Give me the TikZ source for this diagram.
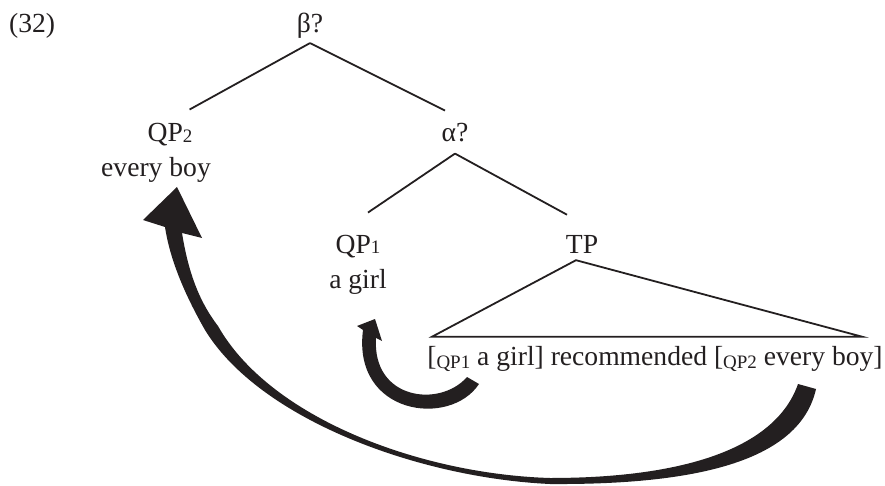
\documentclass[tikz,border=0pt]{standalone}
\usepackage{fontspec}
\setmainfont{Liberation Serif}
\definecolor{ink}{RGB}{35,31,32}
\newcommand{\lowlbl}[2]{\raisebox{-#2pt}{\fontsize{19}{19}\selectfont #1}}

\begin{document}
\begin{tikzpicture}[x=1pt,y=-1pt,
		lbl/.style={inner sep=0pt,anchor=base,text=ink,font=\fontsize{27.6}{32}\selectfont},
		branch/.style={draw=ink,line width=1.8pt}]
	\useasboundingbox (0,0) rectangle (885,486);
	% labels
	\node[lbl,anchor=base west] (ex) at (9,33) {(32)};
	\node[lbl] (beta) at (310,33) {β?};
	\node[lbl] (qp2) at (170,142) {QP\lowlbl{2}{1}};
	\node[lbl] (eb) at (156,177) {every boy};
	\node[lbl] (alpha) at (455,142) {α?};
	\node[lbl] (qp1) at (358,253) {QP\lowlbl{1}{1}};
	\node[lbl] (ag) at (358,288) {a girl};
	\node[lbl] (tp) at (582,253) {TP};
	\node[lbl] (sent) at (655,365) {[\lowlbl{QP1}{3} a girl] recommended [\lowlbl{QP2}{3} every boy]};
	% branches
	\draw[branch] ([yshift=-4pt]beta.south) -- ([xshift=-3pt,yshift=14pt]qp2.north east);
	\draw[branch] ([yshift=-4pt]beta.south) -- ([xshift=-10pt,yshift=13pt]alpha.north);
	\draw[branch] ([yshift=-11pt]alpha.south) -- ([xshift=10pt,yshift=22pt]qp1.north);
	\draw[branch] ([yshift=-11pt]alpha.south) -- ([xshift=-15pt,yshift=20pt]tp.north);
	\draw[branch,line join=miter] ([xshift=5pt,yshift=9pt]sent.north west) -- ([xshift=-6pt,yshift=-7pt]tp.south)
		-- ([xshift=-21pt,yshift=9pt]sent.north east) -- cycle;
	% movement arrows
	\fill[ink] (479,384) .. controls (450,428) and (352,415) .. (363,330)
		-- (357,326) -- (375,319) -- (382,341) -- (376,338)
		.. controls (372,400) and (440,408) .. (467,377) -- cycle;
	\fill[ink] (816,389) .. controls (800,460) and (700,485) .. (550,484)
		.. controls (420,478) and (260,420) .. (205,330)
		.. controls (185,295) and (170,260) .. (165,227)
		-- (143,220) -- (177,187) -- (202,238) -- (182,233)
		.. controls (188,270) and (198,300) .. (218,326)
		.. controls (270,418) and (420,474) .. (550,478)
		.. controls (680,478) and (775,450) .. (798,384) -- cycle;
\end{tikzpicture}
\end{document}
